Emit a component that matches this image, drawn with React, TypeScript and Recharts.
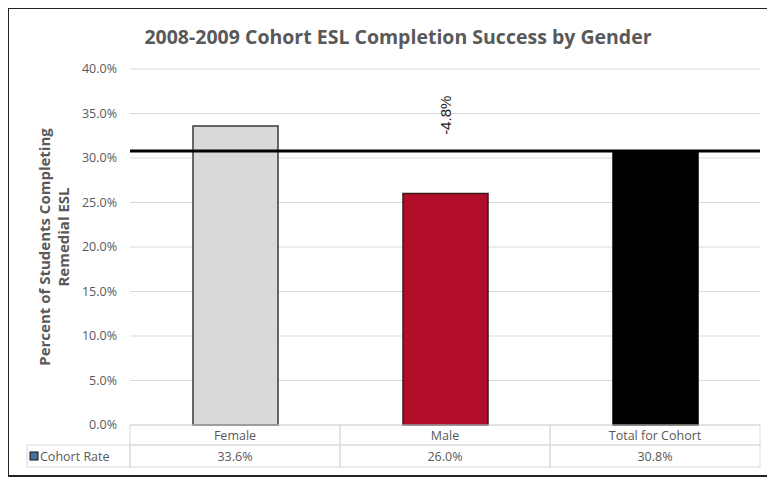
import React from 'react';
import { BarChart, Bar, XAxis, YAxis, CartesianGrid, Cell, LabelList, ReferenceLine } from 'recharts';

const categories = ['Female', 'Male', 'Total for Cohort'];
const cohortRate = [33.6, 26.0, 30.8];
const diffLabels = ['', '-4.8%', ''];
const cohortTotal = 30.8;
const diffLabelLevel = 34.8; // where the "-4.8%" label sits, in percent units
const yTicks = [0, 5, 10, 15, 20, 25, 30, 35, 40];

const BAR_COLORS = ['#d9d9d9', '#b20e2b', '#000000'];
const BAR_STROKES = ['#3a3a3a', '#3a1a1a', '#000000'];
const FONT = '"Open Sans", sans-serif';
const GRAY = '#595959';
const TABLE_LINE = '#d9d9d9';

// build the rows recharts wants from the arrays above
const chartData = categories.map((name, i) => ({
  name,
  rate: cohortRate[i],
  diff: diffLabels[i],
}));

const CELL_W = 210;

// x axis drawn as the data table under the plot
const TableTick = (props: any) => {
  const { x, y, payload } = props;
  const i = payload.index;
  const left = x - CELL_W / 2;
  return (
    <g>
      <rect x={left} y={y} width={CELL_W} height={20} fill="none" stroke={TABLE_LINE} />
      <rect x={left} y={y + 20} width={CELL_W} height={22} fill="none" stroke={TABLE_LINE} />
      <text x={x} y={y + 15} textAnchor="middle" fontFamily={FONT} fontSize={12.5} fill={GRAY}>
        {payload.value}
      </text>
      <text x={x} y={y + 36} textAnchor="middle" fontFamily={FONT} fontSize={12.5} fill={GRAY}>
        {cohortRate[i].toFixed(1)}%
      </text>
      {i === 0 && (
        <g>
          <rect x={18} y={y + 20} width={left - 18} height={22} fill="none" stroke={TABLE_LINE} />
          <rect x={21} y={y + 27} width={8} height={8} fill="#4a6fa5" stroke="#111" strokeWidth={1} />
          <text x={31} y={y + 36} fontFamily={FONT} fontSize={12.5} fill={GRAY}>
            Cohort Rate
          </text>
        </g>
      )}
    </g>
  );
};

const DiffLabel = (props: any) => {
  const { x, y, width, height, index, value } = props;
  if (!value) return null;
  const bottom = y + height;
  const pxPer = height / cohortRate[index];
  const cx = x + width / 2;
  const cy = bottom - pxPer * diffLabelLevel;
  return (
    <text
      x={cx}
      y={cy}
      textAnchor="middle"
      dominantBaseline="central"
      transform={`rotate(-90, ${cx}, ${cy})`}
      fontFamily='"Liberation Sans", Arial, sans-serif'
      fontSize={15}
      fill="#222"
    >
      {value}
    </text>
  );
};

const YLabel = () => (
  <g fontFamily={FONT} fontSize={15} fontWeight={700} fill={GRAY}>
    <text x={35} y={238} textAnchor="middle" dominantBaseline="central" transform="rotate(-90, 35, 238)">
      Percent of Students Completing
    </text>
    <text x={54} y={228} textAnchor="middle" dominantBaseline="central" transform="rotate(-90, 54, 228)">
      Remedial ESL
    </text>
  </g>
);

const App = () => {
  return (
    <div
      style={{
        position: 'relative',
        marginLeft: -1,
        marginTop: -1,
        width: 766,
        height: 466,
        borderLeft: '2px solid #222',
        borderTop: '2px solid #222',
        borderBottom: '2px solid #222',
        background: '#fff',
      }}
    >
      <div
        style={{
          position: 'absolute',
          left: 6,
          top: 15,
          width: 766,
          textAlign: 'center',
          fontFamily: FONT,
          fontWeight: 700,
          fontSize: 19.5,
          color: GRAY,
          lineHeight: '26px',
        }}
      >
        2008-2009 Cohort ESL Completion Success by Gender
      </div>
      <BarChart width={766} height={466} data={chartData} margin={{ top: 60, right: 15, bottom: 0, left: 0 }}>
        <CartesianGrid vertical={false} stroke={TABLE_LINE} />
        <XAxis
          dataKey="name"
          height={50}
          axisLine={false}
          tickLine={false}
          tickSize={0}
          tickMargin={0}
          interval={0}
          tick={<TableTick />}
        />
        <YAxis
          width={121}
          domain={[0, 40]}
          ticks={yTicks}
          axisLine={false}
          tickLine={false}
          tickSize={8}
          tickMargin={5}
          tickFormatter={(v: number) => `${v.toFixed(1)}%`}
          tick={{ fontFamily: FONT, fontSize: 12.5, fill: GRAY }}
          label={<YLabel />}
        />
        <Bar dataKey="rate" barSize={85} isAnimationActive={false}>
          {chartData.map((_, i) => (
            <Cell key={`cell-${i}`} fill={BAR_COLORS[i]} stroke={BAR_STROKES[i]} strokeWidth={1.5} />
          ))}
          <LabelList dataKey="diff" content={<DiffLabel />} />
        </Bar>
        <ReferenceLine y={cohortTotal} stroke="#000" strokeWidth={3} />
      </BarChart>
    </div>
  );
};

export default App;
